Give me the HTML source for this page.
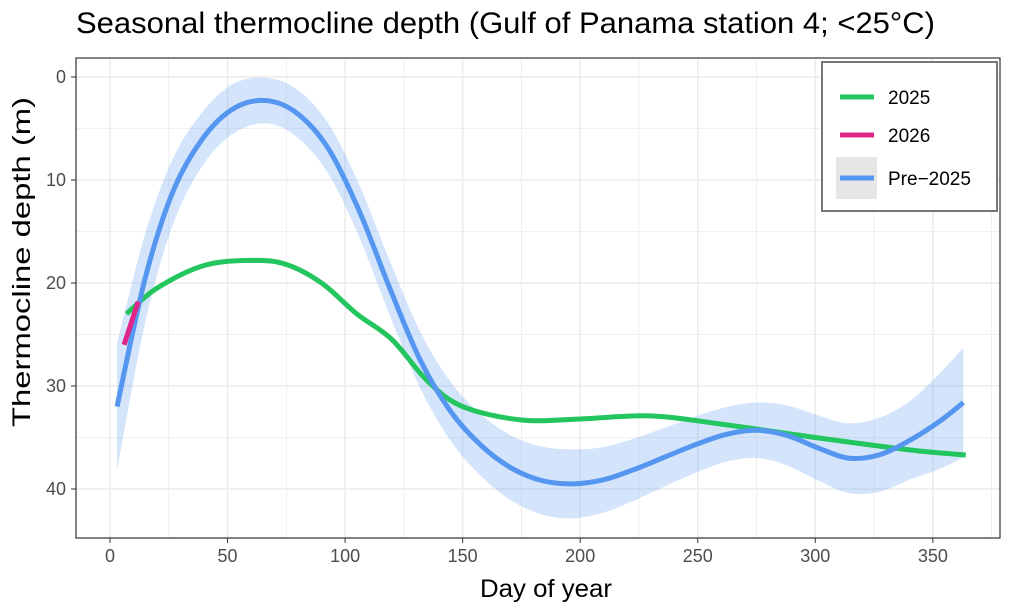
<!DOCTYPE html><html><head><meta charset="utf-8"><style>
body{margin:0;background:#fff;font-family:"Liberation Sans",sans-serif}
</style></head><body>
<svg id="s" width="1023" height="611" xmlns="http://www.w3.org/2000/svg" font-family="Liberation Sans, sans-serif">
<rect width="1023" height="611" fill="#fff"/>
<g id="grid"></g>
<g id="data"></g>
<rect x="76" y="58" width="924" height="480" fill="none" stroke="#333" stroke-width="1.2"/>
<text x="76" y="33" font-size="30" fill="#000" textLength="859" lengthAdjust="spacingAndGlyphs">Seasonal thermocline depth (Gulf of Panama station 4; &lt;25°C)</text>
<text x="546" y="597" font-size="25" text-anchor="middle" textLength="132" lengthAdjust="spacingAndGlyphs">Day of year</text>
<text transform="translate(30,262) rotate(-90)" font-size="25" text-anchor="middle" textLength="330" lengthAdjust="spacingAndGlyphs">Thermocline depth (m)</text>
<g id="ticks" font-size="18" fill="#4d4d4d"></g>
<rect x="822" y="62" width="175" height="149" fill="#fff" stroke="#777" stroke-width="2"/>
<line x1="840" y1="97" x2="874" y2="97" stroke="#22c55e" stroke-width="5"/>
<text x="888" y="104" font-size="19">2025</text>
<line x1="840" y1="135" x2="874" y2="135" stroke="#e0248a" stroke-width="5"/>
<text x="888" y="142" font-size="19">2026</text>
<rect x="836" y="157" width="41" height="42" fill="#e6e6e6"/>
<line x1="840" y1="178" x2="874" y2="178" stroke="#5596f0" stroke-width="5"/>
<text x="888" y="185" font-size="19">Pre−2025</text>
</svg>
<script>
const X=d=>110+d*2.351, Y=m=>77+m*10.3, NS="http://www.w3.org/2000/svg";
function el(p,t,a){const e=document.createElementNS(NS,t);for(const k in a)e.setAttribute(k,a[k]);document.getElementById(p).appendChild(e);return e;}
for(let d=-25;d<=375;d+=25){const x=X(d);if(x<76||x>1000)continue;el("grid","line",{x1:x,x2:x,y1:58,y2:538,stroke:"#ebebeb","stroke-width":d%50?0.8:1.5});}
for(let m=-5;m<=45;m+=5){const y=Y(m);if(y<58||y>538)continue;el("grid","line",{x1:76,x2:1000,y1:y,y2:y,stroke:"#ebebeb","stroke-width":m%10?0.8:1.5});}
for(let d=0;d<=350;d+=50){el("ticks","line",{x1:X(d),x2:X(d),y1:538,y2:543,stroke:"#333"});const t=el("ticks","text",{x:X(d),y:562,"text-anchor":"middle"});t.textContent=d;}
for(let m=0;m<=40;m+=10){el("ticks","line",{x1:71,x2:76,y1:Y(m),y2:Y(m),stroke:"#333"});const t=el("ticks","text",{x:66,y:Y(m)+6,"text-anchor":"end"});t.textContent=m;}
function pathPx(pts){let s="M"+pts[0].join(",");for(let i=0;i<pts.length-1;i++){const p0=pts[i-1]||pts[i],p1=pts[i],p2=pts[i+1],p3=pts[i+2]||p2;s+=` C${p1[0]+(p2[0]-p0[0])/6},${p1[1]+(p2[1]-p0[1])/6} ${p2[0]-(p3[0]-p1[0])/6},${p2[1]-(p3[1]-p1[1])/6} ${p2[0]},${p2[1]}`;}return s;}
const path=pts=>pathPx(pts.map(p=>[X(p[0]),Y(p[1])]));
const blue=[[3,32],[15,19.5],[27,11],[40,5.8],[53,3],[67,2.3],[80,3.6],[93,7],[106,13],[119,20.5],[132,27.5],[145,32.5],[158,35.8],[171,38],[184,39.2],[197,39.5],[210,39.1],[223,38.1],[236,36.9],[249,35.7],[262,34.7],[275,34.3],[288,34.8],[301,36],[314,37],[327,36.7],[340,35.3],[353,33.4],[363,31.6]];
const hwK=[[3,6.2],[20,3.5],[40,2.6],[67,2.2],[100,2.5],[140,2.8],[193,3.4],[240,2.8],[270,2.6],[315,3.4],[340,3.8],[363,5.3]];
function hw(d){for(let i=0;i<hwK.length-1;i++){const a=hwK[i],b=hwK[i+1];if(d<=b[0]){return a[1]+(b[1]-a[1])*(d-a[0])/(b[0]-a[0]);}}return 5.3;}
const up=blue.map(p=>[p[0],p[1]-hw(p[0])]), lo=blue.map(p=>[p[0],p[1]+hw(p[0])]);
const rib=path(up)+" L"+path(lo.slice().reverse()).slice(1)+" Z";
el("data","path",{d:rib,fill:"#5596f0","fill-opacity":0.25});
el("data","path",{d:path([[7,23],[20,20.5],[40,18.3],[60,17.8],[75,18.2],[90,20],[105,23],[120,25.5],[135,29.5],[150,32],[175,33.3],[200,33.2],[230,32.9],[260,33.7],[300,35],[340,36.2],[364,36.7]]),fill:"none",stroke:"#22c55e","stroke-width":5});
el("data","path",{d:path(blue),fill:"none",stroke:"#5596f0","stroke-width":5});
el("data","path",{d:path([[6,26],[12,21.8]]),fill:"none",stroke:"#e0248a","stroke-width":5});
</script>
</body></html>
